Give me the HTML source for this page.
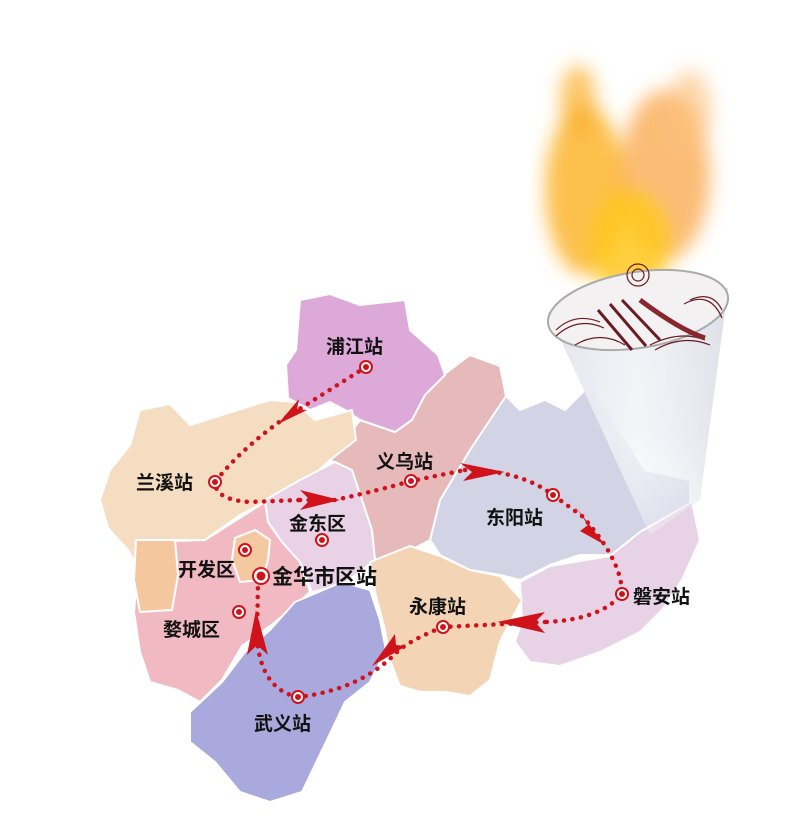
<!DOCTYPE html>
<html><head><meta charset="utf-8"><style>
html,body{margin:0;padding:0;background:#fff;}
svg{display:block}
text{font-family:"Liberation Sans","Noto Sans CJK SC",sans-serif;font-weight:bold;fill:#111;}
</style></head><body>
<svg width="805" height="838" viewBox="0 0 805 838" xmlns="http://www.w3.org/2000/svg">
<defs>
<filter id="blur8"><feGaussianBlur stdDeviation="9"/></filter>
<filter id="blur4"><feGaussianBlur stdDeviation="3"/></filter>
<linearGradient id="cone" x1="0" y1="0" x2="0" y2="1">
<stop offset="0" stop-color="#e8eaf0" stop-opacity="1"/><stop offset="0.6" stop-color="#eceef4" stop-opacity="0.85"/><stop offset="1" stop-color="#f4f4f8" stop-opacity="0"/></linearGradient>
<linearGradient id="coneside" x1="0" y1="0" x2="1" y2="0">
<stop offset="0" stop-color="#d6d9e2" stop-opacity="0.5"/><stop offset="0.5" stop-color="#fff" stop-opacity="0.3"/><stop offset="1" stop-color="#cfd3dd" stop-opacity="0.5"/></linearGradient>
</defs>
<g stroke="#fff" stroke-width="2" stroke-linejoin="round">
<path fill="#d3d3e6" d="M440,500 L470,450 L505,395 L520,410 L545,400 L565,410 L590,385 L620,430 L645,470 L690,480 L690,520 L650,550 L630,565 L610,555 L580,555 L550,565 L520,580 L500,575 L470,570 L440,555 L430,540 Z"/>
<path fill="#e8d2e6" d="M520,582 L550,566 L610,556 L640,532 L692,502 L700,540 L682,580 L662,610 L640,632 L600,652 L560,666 L530,662 L515,642 L522,620 Z"/>
<path fill="#e6b9bb" d="M330,460 L360,420 L395,432 L430,385 L470,355 L500,366 L506,396 L490,420 L470,450 L440,500 L430,540 L400,556 L375,560 L370,530 L360,500 L350,470 Z"/>
<path fill="#dca9d9" d="M300,300 L330,294 L360,305 L405,300 L410,330 L438,355 L445,375 L425,395 L412,420 L395,432 L360,420 L345,410 L330,402 L310,410 L288,398 L286,365 L296,350 Z"/>
<path fill="#f5ddc2" d="M140,410 L170,404 L190,425 L270,400 L295,402 L315,420 L352,410 L356,440 L330,460 L308,480 L288,490 L265,502 L240,515 L205,540 L150,540 L140,570 L128,550 L108,528 L100,500 L110,470 L130,445 Z"/>
<path fill="#e9d1e6" d="M265,500 L300,480 L335,462 L352,470 L362,500 L372,530 L375,560 L342,585 L312,592 L300,562 L282,542 L268,522 Z"/>
<path fill="#f1bac2" d="M140,542 L205,540 L265,502 L268,522 L282,542 L300,562 L310,592 L295,606 L270,626 L242,646 L222,680 L200,702 L178,690 L150,682 L140,652 L134,612 Z"/>
<path fill="#f4c79f" d="M136,540 L175,540 L178,575 L172,610 L140,612 L134,580 Z"/>
<path fill="#f4c9a1" d="M235,538 L255,530 L270,540 L268,560 L262,580 L240,582 L232,560 Z"/>
<path fill="#a9a9dd" d="M295,602 L342,582 L370,590 L380,620 L386,650 L370,682 L345,702 L326,742 L302,792 L270,802 L240,792 L215,762 L190,742 L190,712 L222,682 L245,652 L270,630 Z"/>
<path fill="#f3d5b6" d="M370,562 L410,546 L440,556 L470,570 L500,576 L522,600 L510,622 L500,642 L490,680 L470,696 L445,692 L420,692 L400,686 L390,660 L385,630 L376,596 Z"/>
</g>
<!-- Torch flames -->
<g filter="url(#blur8)">
<ellipse cx="585" cy="190" rx="40" ry="85" fill="#fbb01e" opacity="0.8"/>
<ellipse cx="665" cy="175" rx="45" ry="85" fill="#f99a28" opacity="0.65"/>
<ellipse cx="630" cy="245" rx="40" ry="55" fill="#ffc820" opacity="0.85"/>
<ellipse cx="578" cy="100" rx="18" ry="35" fill="#fbae2a" opacity="0.7"/>
<ellipse cx="690" cy="110" rx="22" ry="40" fill="#fbc07a" opacity="0.6"/>
</g>
<!-- cone -->
<path d="M548,312 L728,288 L700,500 L650,535 Z" fill="url(#cone)"/>
<path d="M548,312 L728,288 L700,500 L650,535 Z" fill="url(#coneside)"/>
<ellipse cx="638" cy="310" rx="91" ry="38" transform="rotate(-9 638 310)" fill="#f3f1f1" stroke="#aaa" stroke-width="2"/>
<g fill="none" stroke="#6a1c24" stroke-width="1.2">
<path d="M556,330 Q575,312 600,322"/><path d="M556,336 Q578,316 604,328"/>
<path d="M690,300 Q712,290 722,310"/><path d="M684,304 Q710,290 722,318"/>
<path d="M650,345 Q680,330 705,340"/><path d="M655,350 Q683,334 710,345"/>
<circle cx="638" cy="275" r="6"/><circle cx="638" cy="275" r="11"/>
<path d="M575,345 Q600,330 625,345"/>
</g>
<g fill="none" stroke="#6a1c24" stroke-width="3">
<path d="M598,310 L632,350"/><path d="M610,304 L646,346"/><path d="M622,300 L660,340"/>
<path d="M640,300 Q680,330 705,338" stroke="#8a2630" stroke-width="5"/>
</g>
<!-- route -->
<g fill="none" stroke="#d0121b" stroke-width="4.5" stroke-dasharray="0.1 8.5" stroke-linecap="round">
<path d="M366,367 L282,420 Q240,450 215,482 Q215,500 250,502 L300,500"/>
<path d="M300,500 L335,500 Q380,490 411,481 L465,470"/>
<path d="M465,470 Q520,470 553,495 L582,516"/>
<path d="M582,516 Q622,560 622,594 Q600,620 545,622"/>
<path d="M545,622 L443,627 Q410,640 397,652"/>
<path d="M397,652 Q360,690 298,697 Q262,690 257,640"/>
<path d="M257,640 L258,582"/>
</g>
<g fill="#d0121b">
<path d="M278,424 L307,410 L297,409 L299,399 Z"/>
<path d="M300,490 L340,500 L300,510 L310,500 Z"/>
<path d="M460,463 L505,472 L463,481 L472,472 Z"/>
<path d="M575,506 L605,545 L580,531 L588,525 Z"/>
<path d="M545,612 L497,622 L545,633 L535,622 Z"/>
<path d="M372,666 L406,646 L396,645 L395,634 Z"/>
<path d="M247,655 L256,610 L268,655 L257,645 Z"/>
</g>
<g fill="#fff" stroke="#d0121b" stroke-width="2">
<circle cx="366" cy="367" r="6"/><circle cx="215" cy="482" r="6"/><circle cx="411" cy="481" r="6"/>
<circle cx="553" cy="495" r="6"/><circle cx="622" cy="594" r="6"/><circle cx="443" cy="627" r="6"/>
<circle cx="298" cy="697" r="6"/><circle cx="322" cy="540" r="6"/><circle cx="245" cy="550" r="6"/>
<circle cx="239" cy="612" r="6"/><circle cx="261" cy="576" r="8"/>
</g>
<g fill="#d0121b">
<circle cx="366" cy="367" r="3"/><circle cx="215" cy="482" r="3"/><circle cx="411" cy="481" r="3"/>
<circle cx="553" cy="495" r="3"/><circle cx="622" cy="594" r="3"/><circle cx="443" cy="627" r="3"/>
<circle cx="298" cy="697" r="3"/><circle cx="322" cy="540" r="3"/><circle cx="245" cy="550" r="3"/>
<circle cx="239" cy="612" r="3"/><circle cx="261" cy="576" r="4.5"/>
</g>
<g font-size="19">
<text x="326" y="353">浦江站</text>
<text x="136" y="489">兰溪站</text>
<text x="376" y="468">义乌站</text>
<text x="486" y="524">东阳站</text>
<text x="633" y="603">磐安站</text>
<text x="409" y="613">永康站</text>
<text x="254" y="730">武义站</text>
<text x="289" y="530">金东区</text>
<text x="178" y="576">开发区</text>
<text x="163" y="636">婺城区</text>
<text x="272" y="584" font-size="21">金华市区站</text>
</g>
</svg>
</body></html>
